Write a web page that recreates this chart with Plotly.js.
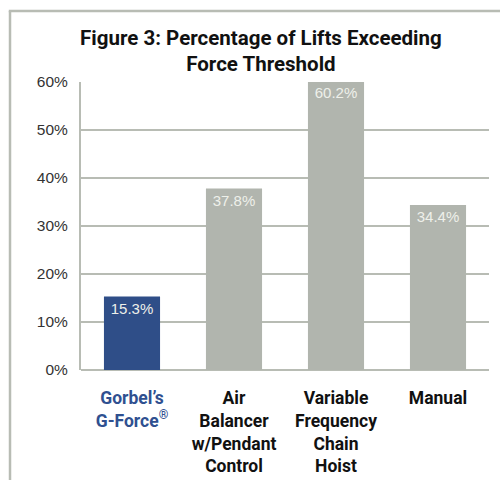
<!DOCTYPE html>
<html>
<head>
<meta charset="utf-8">
<script src="https://cdn.plot.ly/plotly-3.0.1.min.js"></script>
<style>
html,body{margin:0;padding:0;background:#fff;}
#chart{width:500px;height:480px;}
</style>
</head>
<body>
<div id="chart"></div>
<script>
const categories = ["Gorbel's G-Force", "Air Balancer w/Pendant Control", "Variable Frequency Chain Hoist", "Manual"];
const tickLabels = [
  "<span style='color:#2f5090'>Gorbel’s<br>G-Force<sup>®</sup></span>",
  "Air<br>Balancer<br>w/Pendant<br>Control",
  "Variable<br>Frequency<br>Chain<br>Hoist",
  "Manual"
];
const values = [15.3, 37.8, 60.2, 34.4];
const valueLabels = ["15.3%", "37.8%", "60.2%", "34.4%"];
const barColors = ["#2f4e88", "#b1b5ae", "#b1b5ae", "#b1b5ae"];
const yTicks = [0, 10, 20, 30, 40, 50, 60];
const yTickText = ["0%", "10%", "20%", "30%", "40%", "50%", "60%"];

const gridCol = "#b8bcb4";

const trace = {
  type: 'bar',
  x: categories,
  y: values,
  text: valueLabels,
  textposition: 'inside',
  insidetextanchor: 'end',
  textangle: 0,
  textfont: {family: 'Liberation Sans, Arial, sans-serif', size: 15, color: '#eef0ea'},
  marker: {color: barColors, line: {width: 0}},
  hoverinfo: 'none',
  cliponaxis: true
};

const layout = {
  width: 500,
  height: 480,
  margin: {l: 81, r: 11, t: 82, b: 110},
  paper_bgcolor: '#fff',
  plot_bgcolor: '#fff',
  bargap: 0.45,
  showlegend: false,
  title: {
    text: "<b>Figure 3: Percentage of Lifts Exceeding<br>Force Threshold</b>",
    font: {family: 'Roboto, Liberation Sans, Arial, sans-serif', size: 20.5, color: '#111'},
    x: 0.441, xref: 'paper', xanchor: 'center',
    y: 0.907, yref: 'container', yanchor: 'middle'
  },
  xaxis: {
    tickmode: 'array',
    tickvals: categories,
    ticktext: tickLabels,
    tickfont: {family: 'Roboto, Liberation Sans, Arial, sans-serif', size: 17.5, color: '#111', weight: 'bold'},
    ticks: 'outside', ticklen: 12, tickcolor: 'rgba(0,0,0,0)',
    showline: false, showgrid: false, zeroline: false,
    fixedrange: true
  },
  yaxis: {
    range: [0, 60],
    tickmode: 'array',
    tickvals: yTicks,
    ticktext: yTickText,
    tickfont: {family: 'Liberation Sans, Arial, sans-serif', size: 15.5, color: '#333'},
    ticks: 'outside', ticklen: 8, tickcolor: 'rgba(0,0,0,0)',
    showgrid: true, gridcolor: gridCol, gridwidth: 2,
    showline: true, linecolor: gridCol, linewidth: 2,
    zeroline: true, zerolinecolor: gridCol, zerolinewidth: 2,
    fixedrange: true
  },
  shapes: [
    {type: 'line', xref: 'paper', yref: 'paper', x0: -0.174, x1: -0.174, y0: 1.2465, y1: -0.40, line: {color: gridCol, width: 2.5}},
    {type: 'line', xref: 'paper', yref: 'paper', x0: -0.177, x1: 1.05, y0: 1.2465, y1: 1.2465, line: {color: gridCol, width: 2.5}}
  ]
};

Plotly.newPlot('chart', [trace], layout, {displayModeBar: false, staticPlot: true});
</script>
</body>
</html>
